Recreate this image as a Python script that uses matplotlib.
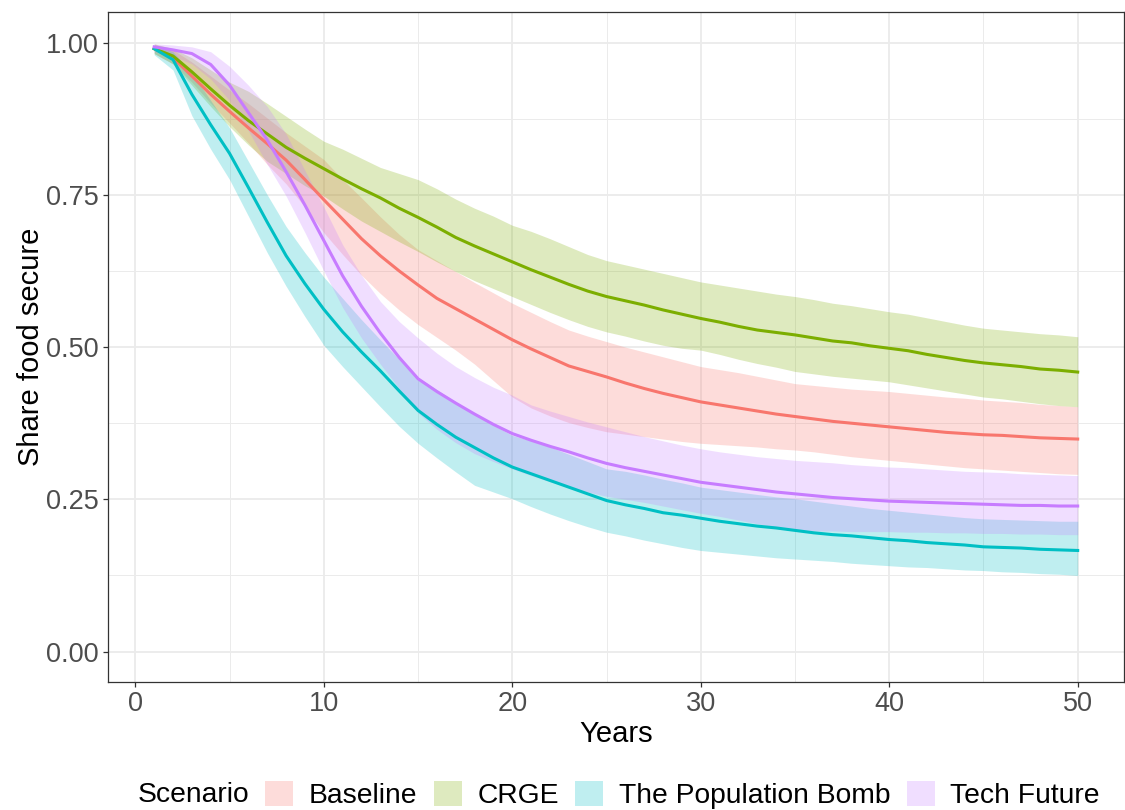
import numpy as np
import matplotlib
matplotlib.use("Agg")
import matplotlib.pyplot as plt
from matplotlib.patches import Patch

plt.rcParams['font.family'] = ['Liberation Sans', 'DejaVu Sans']

years = list(range(1, 51))
scenarios = ["Baseline", "CRGE", "The Population Bomb", "Tech Future"]
colors = ["#F8766D", "#7CAE00", "#00BFC4", "#C77CFF"]

# mean share food secure per scenario
baseline = [.99, .975, .945, .915, .887, .86, .834, .807, .775, .742,
            .71, .678, .65, .625, .602, .58, .563, .546, .529, .512,
            .497, .483, .469, .46, .451, .441, .432, .424, .417, .41,
            .405, .4, .395, .39, .386, .382, .378, .375, .372, .369,
            .366, .363, .36, .358, .356, .355, .353, .351, .35, .349]
crge = [.99, .978, .952, .924, .897, .872, .85, .828, .81, .793,
        .776, .76, .745, .728, .713, .697, .68, .666, .653, .64,
        .627, .615, .603, .592, .583, .576, .569, .561, .554, .547,
        .541, .534, .528, .524, .52, .515, .51, .507, .502, .498,
        .494, .488, .483, .478, .474, .471, .468, .464, .462, .459]
pop_bomb = [.99, .972, .915, .865, .818, .762, .705, .65, .604, .562,
            .525, .492, .461, .428, .396, .373, .352, .335, .318, .303,
            .292, .281, .27, .259, .248, .241, .235, .228, .224, .219,
            .214, .21, .206, .203, .199, .195, .192, .19, .187, .184,
            .182, .179, .177, .175, .172, .171, .17, .168, .167, .166]
tech = [.993, .988, .982, .964, .93, .885, .84, .788, .733, .675,
        .617, .567, .523, .483, .448, .427, .408, .39, .373, .358,
        .347, .337, .328, .318, .309, .302, .296, .29, .284, .278,
        .274, .27, .266, .262, .259, .256, .253, .251, .249, .247,
        .246, .245, .244, .243, .242, .241, .24, .24, .239, .239]

# ribbon bounds
baseline_lo = [.982, .965, .935, .9, .868, .835, .8, .768, .73, .688,
               .652, .618, .588, .561, .537, .516, .495, .472, .445, .418,
               .4, .387, .376, .368, .361, .357, .353, .349, .345, .342,
               .34, .338, .336, .333, .331, .328, .324, .32, .317, .314,
               .311, .308, .305, .302, .3, .298, .296, .294, .292, .291]
baseline_hi = [.997, .988, .968, .945, .922, .9, .876, .852, .83, .808,
               .775, .745, .714, .685, .66, .642, .624, .606, .589, .572,
               .557, .542, .528, .518, .509, .5, .492, .484, .476, .468,
               .463, .458, .452, .446, .44, .437, .434, .431, .429, .427,
               .424, .421, .418, .416, .413, .411, .409, .406, .404, .402]
crge_lo = [.982, .965, .93, .895, .862, .832, .805, .785, .765, .748,
           .727, .707, .69, .673, .657, .64, .624, .609, .596, .583,
           .57, .557, .545, .534, .525, .518, .51, .503, .498, .495,
           .488, .48, .473, .467, .46, .456, .452, .449, .446, .443,
           .438, .433, .428, .423, .418, .415, .411, .407, .404, .402]
crge_hi = [.998, .99, .975, .955, .935, .92, .9, .879, .858, .838,
           .825, .81, .795, .785, .775, .76, .743, .728, .715, .7,
           .69, .678, .665, .652, .642, .635, .628, .621, .614, .607,
           .602, .597, .592, .587, .583, .578, .572, .568, .563, .558,
           .554, .548, .542, .536, .531, .528, .525, .522, .52, .517]
pop_bomb_lo = [.98, .955, .88, .825, .775, .715, .655, .6, .55, .503,
               .468, .435, .402, .37, .342, .318, .295, .273, .262, .251,
               .238, .226, .215, .205, .196, .19, .183, .177, .171, .166,
               .163, .16, .157, .154, .152, .15, .148, .145, .143, .141,
               .139, .138, .136, .134, .133, .131, .13, .128, .127, .125]
pop_bomb_hi = [.995, .985, .95, .905, .86, .805, .75, .698, .655, .615,
               .58, .545, .512, .48, .45, .43, .41, .39, .372, .355,
               .346, .336, .324, .312, .3, .296, .29, .283, .277, .27,
               .266, .262, .258, .254, .251, .247, .243, .239, .235, .232,
               .229, .226, .223, .22, .218, .217, .216, .215, .214, .214]
tech_lo = [.985, .978, .965, .94, .905, .855, .8, .748, .688, .625,
           .565, .515, .472, .432, .392, .365, .343, .325, .312, .3,
           .289, .279, .27, .262, .255, .25, .245, .239, .233, .227,
           .222, .216, .21, .204, .199, .198, .198, .197, .197, .197,
           .196, .196, .195, .195, .194, .194, .193, .193, .192, .192]
tech_hi = [.998, .996, .993, .985, .961, .93, .895, .85, .79, .73,
           .668, .618, .575, .542, .515, .49, .468, .45, .434, .421,
           .405, .395, .386, .377, .369, .361, .353, .346, .339, .333,
           .328, .324, .32, .317, .314, .312, .31, .307, .305, .303,
           .302, .3, .298, .296, .295, .294, .292, .291, .29, .289]

means = [baseline, crge, pop_bomb, tech]
lows = [baseline_lo, crge_lo, pop_bomb_lo, tech_lo]
highs = [baseline_hi, crge_hi, pop_bomb_hi, tech_hi]

fig = plt.figure(figsize=(11.25, 8.1), dpi=100)
ax = fig.add_axes([0.096, 0.158, 0.903, 0.827])

# ribbons first, lines on top (ggplot layer order)
for lo, hi, c in zip(lows, highs, colors):
    ax.fill_between(years, lo, hi, color=c, alpha=0.25, linewidth=0)
for m, c in zip(means, colors):
    ax.plot(years, m, color=c, linewidth=2.2)

ax.set_xlim(-1.45, 52.45)
ax.set_ylim(-0.05, 1.05)
ax.set_xticks([0, 10, 20, 30, 40, 50])
ax.set_xticks([5, 15, 25, 35, 45], minor=True)
ax.set_yticks([0, 0.25, 0.5, 0.75, 1.0])
ax.set_yticks([0.125, 0.375, 0.625, 0.875], minor=True)
ax.set_yticklabels(["0.00", "0.25", "0.50", "0.75", "1.00"])

ax.grid(which='major', color='#EBEBEB', linewidth=1.3)
ax.grid(which='minor', color='#EBEBEB', linewidth=0.7)
ax.set_axisbelow(True)
for s in ax.spines.values():
    s.set_color('#333333')
    s.set_linewidth(0.9)
ax.tick_params(which='major', length=3.6, width=0.9, color='#333333',
               labelsize=19.5, labelcolor='#4D4D4D', pad=3)
ax.tick_params(which='minor', length=0)

ax.set_xlabel("Years", fontsize=21, labelpad=2)
ax.set_ylabel("Share food secure", fontsize=21, labelpad=1)

# legend at the bottom
fig.text(138 / 1125, 1 - 795 / 810, "Scenario", fontsize=20.3, va='center', ha='left')
handles = [Patch(facecolor=c, alpha=0.25, edgecolor='none') for c in colors]
fig.legend(handles, scenarios, loc='center left', ncol=4, frameon=False,
           bbox_to_anchor=(265 / 1125, 1 - 795 / 810), fontsize=20.3,
           handlelength=1.0, handleheight=1.0, handletextpad=0.55,
           columnspacing=0.58, borderpad=0, borderaxespad=0)

fig.savefig("out.png", dpi=100)
